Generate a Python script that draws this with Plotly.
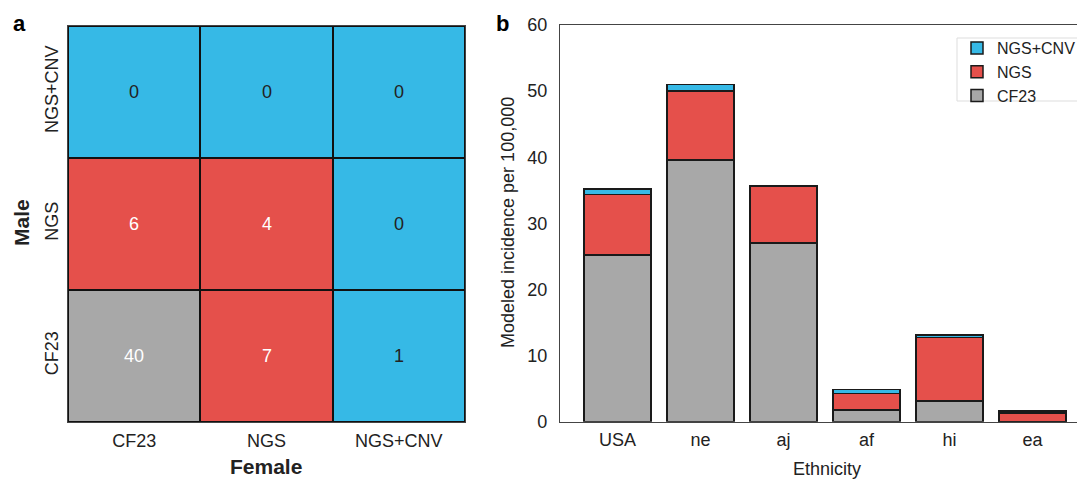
import plotly.graph_objects as go

# ---------- data ----------
methods = ["CF23", "NGS", "NGS+CNV"]           # heatmap axis categories
# rows = male (bottom->top: CF23, NGS, NGS+CNV), cols = female
pair_counts = [[40, 7, 1],
               [6, 4, 0],
               [0, 0, 0]]
pair_class = [[0, 1, 2],
              [1, 1, 2],
              [2, 2, 2]]                        # 0=CF23, 1=NGS, 2=NGS+CNV

ethnicities = ["USA", "ne", "aj", "af", "hi", "ea"]
cf23_vals = [25.2, 39.6, 27.0, 1.8, 3.1, 0.05]
ngs_vals = [9.2, 10.4, 8.6, 2.5, 9.6, 1.3]
cnv_vals = [0.8, 1.0, 0.1, 0.6, 0.4, 0.25]

GRAY = "#a8a8a8"
RED = "#e5504b"
BLUE = "#36b9e6"
FONT = "Liberation Sans, Arial, sans-serif"
TXT = "#222222"

# page has an 8px body margin; size the figure to fit the 1085x480 window
OFF = 8
W, H = 1085 - OFF, 480 - OFF


def px(X):
    return (X - OFF) / W


def py(Y):
    return 1 - (Y - OFF) / H


fig = go.Figure()

# ---------- panel a: heatmap ----------
fig.add_trace(go.Heatmap(
    z=pair_class, x=[0, 1, 2], y=[0, 1, 2],
    colorscale=[[0, GRAY], [0.333, GRAY], [0.333, RED], [0.667, RED],
                [0.667, BLUE], [1, BLUE]],
    zmin=0, zmax=2, showscale=False, xgap=2, ygap=2,
    hoverinfo="skip", xaxis="x", yaxis="y"))

annotations = []
for i, row in enumerate(pair_counts):
    for j, v in enumerate(row):
        col = "white" if pair_class[i][j] < 2 else TXT
        annotations.append(dict(x=j, y=i, xref="x", yref="y", text=str(v),
                                showarrow=False,
                                font=dict(family=FONT, size=18, color=col)))

# ---------- panel b: stacked bars ----------
for name, vals, color in [("CF23", cf23_vals, GRAY), ("NGS", ngs_vals, RED),
                          ("NGS+CNV", cnv_vals, BLUE)]:
    fig.add_trace(go.Bar(x=list(range(len(ethnicities))), y=vals, name=name,
                         marker=dict(color=color,
                                     line=dict(color="#1a1a1a", width=1.5)),
                         xaxis="x2", yaxis="y2"))


def label(x, y, text, size, angle=0, color=TXT, yanchor="middle"):
    return dict(x=px(x), y=py(y), xref="paper", yref="paper", text=text,
                showarrow=False, textangle=angle, xanchor="center",
                yanchor=yanchor,
                font=dict(family=FONT, size=size, color=color))


annotations += [
    label(19.5, 8.5, "<b>a</b>", 22, color="black", yanchor="top"),
    label(502.5, 8.5, "<b>b</b>", 22, color="black", yanchor="top"),
    label(265.5, 466, "<b>Female</b>", 21),
    label(21, 223, "<b>Male</b>", 21, angle=-90),
    label(827, 469, "Ethnicity", 18),
    label(508, 223, "Modeled incidence per 100,000", 18, angle=-90),
]

axfont = dict(family=FONT, size=18, color=TXT)
fig.update_layout(
    width=W, height=H,
    margin=dict(l=0, r=0, t=0, b=0, autoexpand=False),
    paper_bgcolor="white", plot_bgcolor="white",
    barmode="stack", bargap=0.19,
    showlegend=True,
    legend=dict(x=px(957), xanchor="left", y=py(31), yanchor="top",
                traceorder="reversed", bgcolor="rgba(255,255,255,0)",
                bordercolor="rgba(0,0,0,0)", borderwidth=0, tracegroupgap=0,
                font=dict(family=FONT, size=16, color=TXT)),
    annotations=annotations,
    shapes=[dict(type="rect", xref="x domain", yref="y domain",
                 x0=0, x1=1, y0=0, y1=1, layer="below",
                 fillcolor="#111111", line=dict(width=0)),
            dict(type="rect", xref="paper", yref="paper",
                 x0=px(957), x1=px(1090), y0=py(101), y1=py(38),
                 layer="below", fillcolor="white",
                 line=dict(color="#dddddd", width=1))],
    xaxis=dict(domain=[px(68), px(465)], range=[-0.5, 2.5],
               automargin=False,
               tickvals=[0, 1, 2], ticktext=methods, showgrid=False,
               zeroline=False, showline=True, mirror=True, linecolor="#444444",
               linewidth=1, ticks="", ticklabelstandoff=2, tickfont=axfont),
    yaxis=dict(domain=[py(422), py(26)], range=[-0.5, 2.5],
               automargin=False,
               tickvals=[0, 1, 2], ticktext=methods, tickangle=-90,
               showgrid=False, zeroline=False, showline=True, mirror=True,
               linecolor="#444444", linewidth=1, ticks="", ticklabelstandoff=2,
               tickfont=axfont),
    xaxis2=dict(domain=[px(560), 1.0], anchor="y2", range=[-0.693, 5.633],
                automargin=False,
                tickvals=list(range(len(ethnicities))), ticktext=ethnicities,
                showgrid=False, zeroline=False, showline=True, mirror=True,
                linecolor="#444444", linewidth=1.2, ticks="",
                ticklabelstandoff=2, tickfont=axfont),
    yaxis2=dict(domain=[py(421.7), py(25)], anchor="x2",
                automargin=False,
                range=[0, 60], tickvals=[0, 10, 20, 30, 40, 50, 60],
                showgrid=False, zeroline=False, showline=True, mirror=False,
                linecolor="#444444", linewidth=1.2, ticks="",
                ticklabelstandoff=8, tickfont=axfont),
)

fig.write_html("out.html")
